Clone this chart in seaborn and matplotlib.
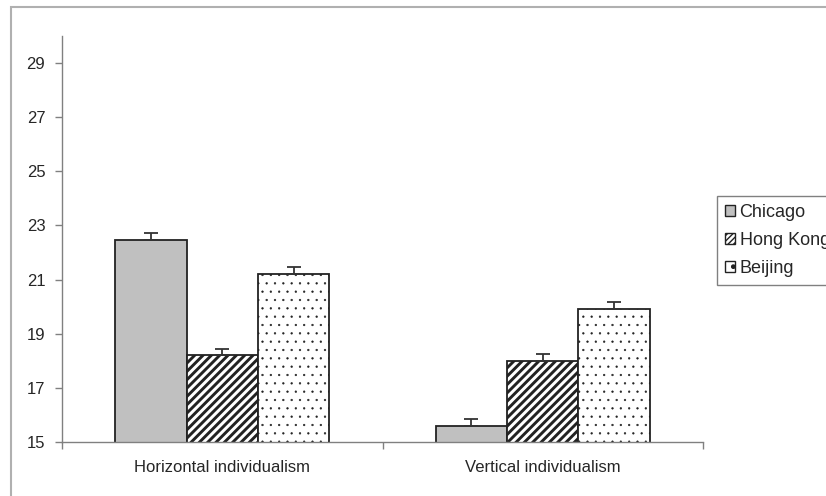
import pandas as pd
import numpy as np
import matplotlib
matplotlib.use("Agg")
import matplotlib.pyplot as plt
import seaborn as sns
from matplotlib.patches import Patch, Rectangle

# values
categories = ["Horizontal individualism", "Vertical individualism"]
cities = ["Chicago", "Hong Kong", "Beijing"]
chicago = [22.45, 15.6]
hong_kong = [18.2, 18.0]
beijing = [21.2, 19.9]
# upper error bars (standard error)
chicago_se = [0.27, 0.25]
hong_kong_se = [0.25, 0.26]
beijing_se = [0.25, 0.26]

df = pd.DataFrame({
    "Dimension": categories * 3,
    "City": [c for c in cities for _ in categories],
    "Score": chicago + hong_kong + beijing,
    "SE": chicago_se + hong_kong_se + beijing_se,
})

sns.set_style("white")
plt.rcParams["font.family"] = ["Liberation Sans", "DejaVu Sans"]

fills = {"Chicago": "#c0c0c0", "Hong Kong": "white", "Beijing": "white"}
hatches = {"Chicago": "", "Hong Kong": "////", "Beijing": ".."}
hatch_lw = {"Chicago": 1.0, "Hong Kong": 2.1, "Beijing": 0.4}
legend_hatches = {"Chicago": "", "Hong Kong": "//////", "Beijing": "."}


def style_hatch(p, city, pattern):
    p.set_hatch(pattern)
    if hasattr(p, "set_hatch_linewidth"):
        p.set_hatch_linewidth(hatch_lw[city])
    else:
        p._hatch_linewidth = hatch_lw[city]


fig = plt.figure(figsize=(8.26, 4.96), dpi=100)
ax = fig.add_axes([62 / 826, 1 - 442 / 496, (703 - 62) / 826, (442 - 36) / 496])

sns.barplot(data=df, x="Dimension", y="Score", hue="City", hue_order=cities,
            order=categories, palette=fills, width=0.667, gap=0,
            errorbar=None, edgecolor="#333333", linewidth=1.3,
            legend=False, ax=ax)

# hatching and error bars per city
for city, cont in zip(cities, ax.containers):
    sub = df[df["City"] == city].set_index("Dimension").loc[categories]
    xs = []
    for bar in cont:
        bar.set_edgecolor("#222222")
        style_hatch(bar, city, hatches[city])
        xs.append(bar.get_x() + bar.get_width() / 2)
    ax.errorbar(xs, sub["Score"].values,
                yerr=[np.zeros(len(xs)), sub["SE"].values],
                fmt="none", ecolor="#333333", elinewidth=1.3,
                capsize=5, capthick=1.3)

ax.set_ylim(15, 30)
ax.set_yticks(np.arange(15, 30, 2))
ax.set_xlim(-0.5, 1.5)
ax.set_xlabel("")
ax.set_ylabel("")

# ticks between categories like the original
ax.set_xticks([0, 1])
ax.set_xticklabels(categories, fontsize=12)
ax.tick_params(axis="x", length=0, pad=13)
ax.set_xticks([-0.5, 0.5, 1.5], minor=True)
ax.tick_params(axis="x", which="minor", length=5, width=1, color="#808080",
               direction="out", bottom=True)
ax.tick_params(axis="y", length=5, width=1, color="#808080", direction="out",
               left=True, labelsize=12, pad=7)

for s in ["top", "right"]:
    ax.spines[s].set_visible(False)
for s in ["left", "bottom"]:
    ax.spines[s].set_color("#808080")
    ax.spines[s].set_linewidth(1)

handles = []
for c in cities:
    h = Patch(facecolor=fills[c], edgecolor="#222222", label=c, linewidth=1)
    style_hatch(h, c, legend_hatches[c])
    handles.append(h)
leg = fig.legend(handles=handles, loc="upper left",
                 bbox_to_anchor=(717 / 826, 1 - 196 / 496),
                 fontsize=13, frameon=True, fancybox=False, framealpha=1,
                 edgecolor="#808080", handlelength=0.55, handleheight=0.55,
                 handletextpad=0.25, labelspacing=0.6, borderpad=0.45,
                 borderaxespad=0)
leg.get_frame().set_linewidth(1)

# outer chart frame
fig.add_artist(Rectangle((11 / 826, -0.05), 1.2, 1 - 7.5 / 496 + 0.05,
                         transform=fig.transFigure, fill=False,
                         edgecolor="#b0b0b0", linewidth=1.5))

fig.savefig("out.png", dpi=100)
